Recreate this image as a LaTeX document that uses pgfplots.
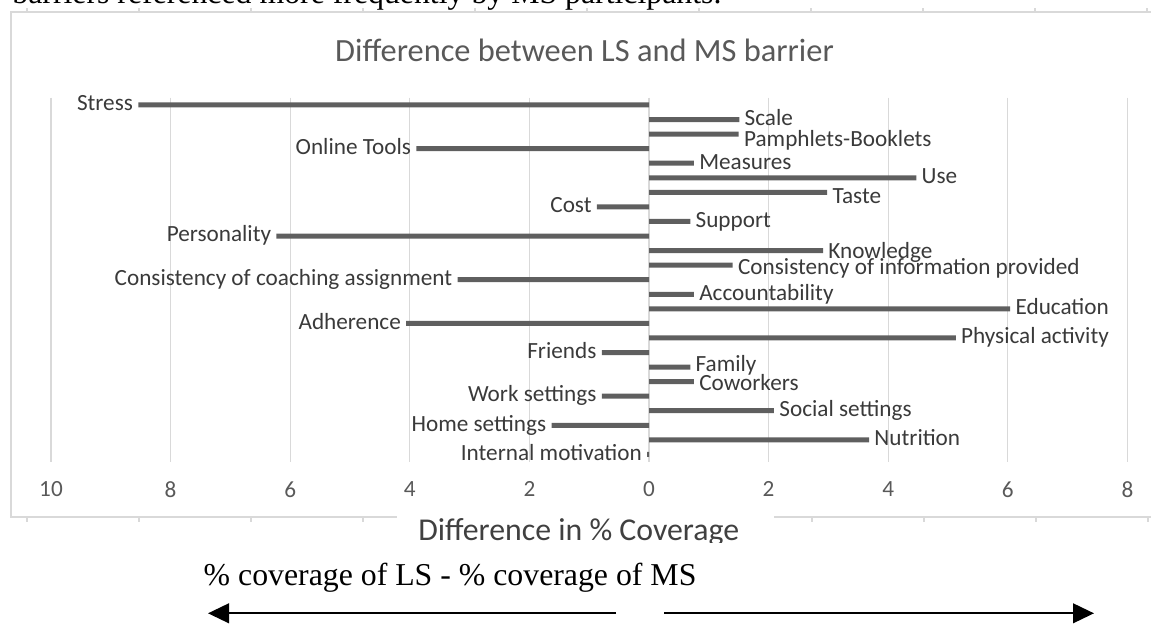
\documentclass[border=0pt]{standalone}
\usepackage{fontspec}
\setmainfont{Carlito}
\newfontfamily\timesfont{Liberation Serif}
\usepackage{pgfplots}
\usepackage{pgfplotstable}
\pgfplotsset{compat=1.18}
\usetikzlibrary{arrows.meta}

\definecolor{bargray}{HTML}{5F5F5F}
\definecolor{gridgray}{HTML}{D9D9D9}
\definecolor{titlegray}{HTML}{595959}
\definecolor{labelgray}{HTML}{3A3A3A}
\definecolor{axtitle}{HTML}{404040}

% idx = row from the top, val = % coverage LS - % coverage MS, dy = label shift (pt)
% barriers referenced more by MS participants (right side)
\pgfplotstableread[col sep=comma]{
idx,val,dy,label
1,1.51,0.85,Scale
2,1.50,-2.65,Pamphlets-Booklets
4,0.75,0.85,Measures
5,4.47,0.85,Use
6,2.98,-1.65,Taste
8,0.69,0.85,Support
10,2.91,-0.45,Knowledge
11,1.40,-1.15,Consistency of information provided
13,0.75,0.85,Accountability
14,6.04,0.85,Education
16,5.13,0.85,Physical activity
18,0.69,1.35,Family
19,0.75,-0.65,Coworkers
21,2.09,0.85,Social settings
23,3.68,0.85,Nutrition
}\posbars
% barriers referenced more by LS participants (left side)
\pgfplotstableread[col sep=comma]{
idx,val,dy,label
0,-8.54,0.85,Stress
3,-3.89,0.85,Online Tools
7,-0.87,0.85,Cost
9,-6.23,0.85,Personality
12,-3.20,0.85,Consistency of coaching assignment
15,-4.06,0.85,Adherence
17,-0.79,0.85,Friends
20,-0.79,0.85,Work settings
22,-1.63,0.85,Home settings
24,-0.03,0.85,Internal motivation
}\negbars

\begin{document}
\begin{tikzpicture}
\useasboundingbox (0,0) rectangle (575.5pt,-312.5pt);

\begin{axis}[
    at={(25.5pt,-230.85pt)}, anchor=south west,
    scale only axis, width=538.2pt, height=182pt,
    xmin=-10, xmax=8, ymin=-0.5, ymax=24.5, y dir=reverse,
    xbar, bar width=2.5pt, bar shift=0pt,
    xtick={-10,-8,...,8},
    xticklabels={10,8,6,4,2,0,2,4,6,8},
    ytick=\empty,
    xmajorgrids, grid style={gridgray, line width=0.6pt},
    axis line style={draw=none},
    major tick length=0pt,
    xticklabel style={font=\fontsize{11.6}{13}\selectfont, text=titlegray,
        anchor=center, yshift=-13.8pt},
    nodes near coords, point meta=explicit symbolic,
    visualization depends on=\thisrow{dy} \as \dy,
    every node near coord/.append style={font=\fontsize{11.6}{13}\selectfont,
        text=labelgray, inner xsep=2.5pt, inner ysep=0pt,
        text height=7.5pt, text depth=0pt, yshift=\dy pt},
    clip=false,
]
\addplot[fill=bargray, draw=none,
    every node near coord/.append style={anchor=west}]
    table[x=val, y=idx, meta=label] {\posbars};
\addplot[fill=bargray, draw=none,
    every node near coord/.append style={anchor=east}]
    table[x=val, y=idx, meta=label] {\negbars};
\end{axis}

\begin{scope}[x=0.5pt, y=-0.5pt]
% text of the page above, cut by the crop
\node[anchor=base west, inner sep=0, font=\timesfont\fontsize{15.9}{18}\selectfont]
    at (12,4) {barriers referenced more frequently by MS participants.};
% chart frame
\draw[gridgray, line width=0.75pt] (1160,12) -- (11,12) -- (11,517) -- (397,517);
\draw[gridgray, line width=0.75pt] (774,517) -- (1160,517);
\foreach \t in {27,139,...,1151} \draw[gridgray, line width=0.6pt] (\t,12) -- (\t,8);
\foreach \t in {27,139,251,363,812,924,1036,1148} \draw[gridgray, line width=0.6pt] (\t,517) -- (\t,522);
% title
\node[anchor=base, inner sep=0, text=titlegray, font=\fontsize{16.2}{19}\selectfont]
    at (584.5,62) {Difference between LS and MS barrier};
% axis title, cut at its lower edge
\begin{scope}
\clip (397,505) rectangle (774,542);
\node[anchor=base, inner sep=0, text=axtitle, font=\fontsize{15.9}{19}\selectfont]
    at (578.7,540) {Difference in \% Coverage};
\end{scope}
% caption under the chart
\node[anchor=base west, inner sep=0, font=\timesfont\fontsize{15.9}{18}\selectfont]
    at (203.3,585) {\% coverage of LS - \% coverage of MS};
\draw[line width=1.1pt, -{Triangle[length=10.5pt, width=9.8pt]}] (616,613.3) -- (208,613.3);
\draw[line width=1.1pt, -{Triangle[length=10.5pt, width=9.8pt]}] (664.3,613.3) -- (1094,613.3);
\end{scope}
\end{tikzpicture}
\end{document}
